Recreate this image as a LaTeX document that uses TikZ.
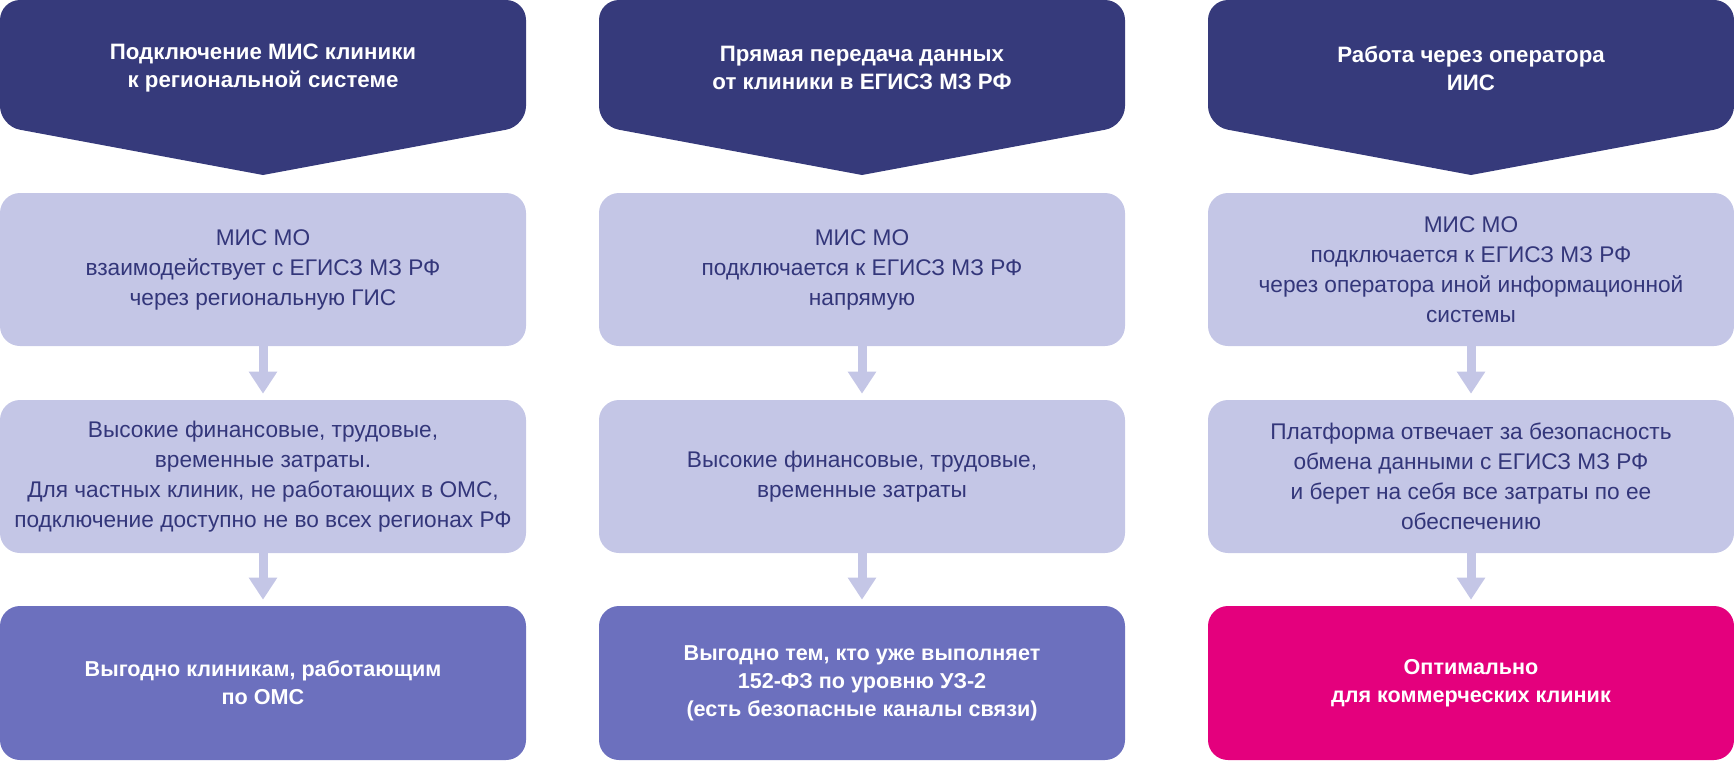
\documentclass[tikz,border=0pt]{standalone}
\usepackage{fontspec}
\setmainfont{Liberation Sans}
\usetikzlibrary{arrows.meta,backgrounds}
\definecolor{navy}{HTML}{363A7B}
\definecolor{lav}{HTML}{C4C6E6}
\definecolor{lavtext}{HTML}{33367A}
\definecolor{mid}{HTML}{6C70BE}
\definecolor{mag}{HTML}{E4007D}
\begin{document}
\begin{tikzpicture}[x=0.75pt,y=-0.75pt,
  hdr/.style={minimum width=394.5pt,minimum height=95.25pt,inner sep=0pt,align=center,
    text=white,font=\fontsize{16.7}{21}\selectfont\bfseries},
  lbox/.style={fill=lav,rounded corners=15pt,minimum width=394.5pt,minimum height=114.75pt,
    inner sep=0pt,align=center,text=lavtext,font=\fontsize{17}{22.5}\selectfont},
  rbox/.style={rounded corners=15pt,minimum width=394.5pt,minimum height=115.5pt,
    inner sep=0pt,align=center,text=white,font=\fontsize{16.2}{21}\selectfont\bfseries},
  arr/.style={draw=lav,line width=6.75pt,shorten >=4.5pt,
    -{Triangle[width=20.25pt,length=16.5pt]}},
  hshape/.style={fill=navy}
]
\useasboundingbox (0,0) rectangle (1734,760);
% headers
\node[hdr] (h1) at (263,68) {Подключение МИС клиники\\к региональной системе};
\node[hdr] (h2) at (862,68) {Прямая передача данных\\от клиники в ЕГИСЗ МЗ РФ};
\node[hdr] (h3) at (1471,68) {Работа через оператора\\ИИС};
\begin{scope}[on background layer]
\foreach \L in {0,599,1208}{
  \fill[hshape] (\L+263,175) [rounded corners=15pt] -- (\L,126) -- (\L,0) -- (\L+526,0) -- (\L+526,126) [sharp corners] -- (\L+263,175) -- cycle;
}
\end{scope}
% row 1
\node[lbox] (a1) at (263,269.5) {МИС МО\\взаимодействует с ЕГИСЗ МЗ РФ\\через региональную ГИС};
\node[lbox] (a2) at (862,269.5) {МИС МО\\подключается к ЕГИСЗ МЗ РФ\\напрямую};
\node[lbox] (a3) at (1471,269.5) {МИС МО\\подключается к ЕГИСЗ МЗ РФ\\через оператора иной информационной\\системы};
% row 2
\node[lbox] (b1) at (263,476.5) {Высокие финансовые, трудовые,\\временные затраты.\\Для частных клиник, не работающих в ОМС,\\подключение доступно не во всех регионах РФ};
\node[lbox] (b2) at (862,476.5) {Высокие финансовые, трудовые,\\временные затраты};
\node[lbox] (b3) at (1471,476.5) {Платформа отвечает за безопасность\\обмена данными с ЕГИСЗ МЗ РФ\\и берет на себя все затраты по ее\\обеспечению};
% row 3
\node[rbox,fill=mid] (c1) at (263,683) {Выгодно клиникам, работающим\\по ОМС};
\node[rbox,fill=mid] (c2) at (862,683) {Выгодно тем, кто уже выполняет\\152-ФЗ по уровню УЗ-2\\(есть безопасные каналы связи)};
\node[rbox,fill=mag] (c3) at (1471,683) {Оптимально\\для коммерческих клиник};
% arrows
\foreach \i in {1,2,3}{
  \draw[arr] (a\i.south) -- (b\i.north);
  \draw[arr] (b\i.south) -- (c\i.north);
}
\end{tikzpicture}
\end{document}
